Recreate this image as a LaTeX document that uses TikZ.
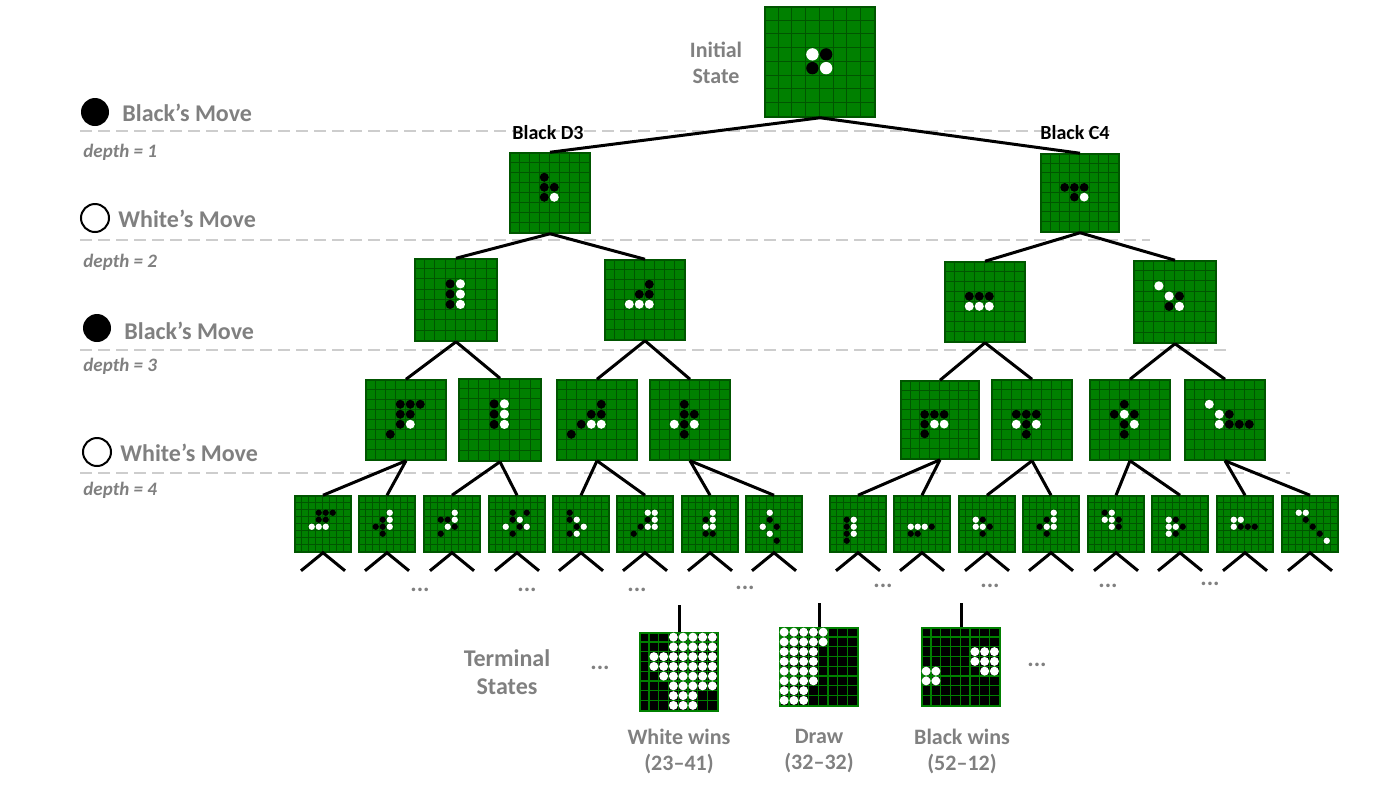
\documentclass[tikz,border=0pt]{standalone}
\usepackage{fontspec}
\setmainfont{Carlito}
\definecolor{boardgreen}{RGB}{0,128,0}
\definecolor{gridgreen}{RGB}{0,85,0}
\definecolor{labelgray}{RGB}{128,128,128}
\definecolor{dashgray}{RGB}{205,205,205}
\tikzset{every picture/.style={line width=0.75pt}}
\tikzset{
  board/.style={draw=gridgreen, fill=boardgreen, inner sep=0pt, minimum size=#1},
  final/.style={draw=boardgreen, fill=black, inner sep=0pt, minimum size=#1},
  edge/.style={line width=1.5pt, black},
  levelline/.style={dashgray, dashed, line width=1pt, dash pattern=on 6pt off 3pt},
  movelabel/.style={labelgray, font=\bfseries\fontsize{12}{14}\selectfont, anchor=west},
  depthlabel/.style={labelgray, font=\bfseries\itshape\fontsize{9.5}{11}\selectfont, anchor=west},
  graylabel/.style={labelgray, font=\bfseries\fontsize{11}{13}\selectfont, align=center},
  movename/.style={black, font=\bfseries\fontsize{10}{12}\selectfont},
  dots/.style={labelgray, font=\bfseries\fontsize{12}{14}\selectfont}
}
% board: name, center, size (px), black stones, white stones
\newcommand\board[5]{%
  \node[board=#3*0.5pt] (#1) at #2 {};
  \pgfmathsetmacro\cs{#3/16}
  \begin{scope}[shift={(#1.north west)}, x=\cs pt, y=-\cs pt]
    \foreach \k in {1,...,7} {
      \draw[gridgreen, line width=0.4pt] (\k,0) -- (\k,8);
      \draw[gridgreen, line width=0.4pt] (0,\k) -- (8,\k);
    }
    \foreach \c/\r in {#4} \fill[black] (\c+0.5,\r+0.5) circle (0.45);
    \foreach \c/\r in {#5} \fill[white] (\c+0.5,\r+0.5) circle (0.45);
  \end{scope}}
% terminal board: name, center, white stones (col/row)
\newcommand\finalboard[3]{%
  \node[final=39pt] (#1) at #2 {};
  \begin{scope}[shift={(#1.north west)}, x=4.875pt, y=-4.875pt]
    \foreach \k in {1,...,7} {
      \draw[boardgreen, line width=0.6pt] (\k,0) -- (\k,8);
      \draw[boardgreen, line width=0.6pt] (0,\k) -- (8,\k);
    }
    \foreach \c/\r in {#3} \fill[white] (\c+0.5,\r+0.5) circle (0.46);
  \end{scope}}

\begin{document}
\begin{tikzpicture}[x=0.5pt,y=-0.5pt]
\useasboundingbox (0,0) rectangle (1400,788);

% level lines and labels
\draw[levelline] (80,131) -- (1110,131);
\draw[levelline] (80,240) -- (1150,240);
\draw[levelline] (80,350) -- (1230,350);
\draw[levelline] (80,473) -- (1290,473);
\node[circle, fill=black, minimum size=14pt] (m1) at (95,112) {};
\node[movelabel] (l1) at (115,113) {Black’s Move};
\node[depthlabel] (d1) at (76,152) {depth = 1};
\node[circle, draw=black, line width=1pt, fill=white, minimum size=14pt] (m2) at (95,218) {};
\node[movelabel] (l2) at (111,219) {White’s Move};
\node[depthlabel] (d2) at (76,262) {depth = 2};
\node[circle, fill=black, minimum size=14pt] (m3) at (97,328) {};
\node[movelabel] (l3) at (117,331) {Black’s Move};
\node[depthlabel] (d3) at (76,366) {depth = 3};
\node[circle, draw=black, line width=1pt, fill=white, minimum size=14pt] (m4) at (97,452) {};
\node[movelabel] (l4) at (113,453) {White’s Move};
\node[depthlabel] (d4) at (76,490) {depth = 4};

% root and depth 1
\board{init}{(820,62)}{110}{4/3,3/4}{3/3,4/4}
\node[graylabel] (initlabel) at (716,63) {Initial\\State};
\board{a1}{(550,193)}{80}{3/2,3/3,4/3,3/4}{4/4}
\board{a2}{(1080,193)}{78}{2/3,3/3,4/3,3/4}{4/4}
\node[movename] (n1) at (548,133) {Black D3};
\node[movename] (n2) at (1075,133) {Black C4};

% depth 2
\board{b1}{(456,300)}{82}{3/2,3/3,3/4}{4/2,4/3,4/4}
\board{b2}{(645,300)}{80}{4/2,3/3,4/3}{2/4,3/4,4/4}
\board{b3}{(985,302)}{80}{2/3,3/3,4/3}{2/4,3/4,4/4}
\board{b4}{(1175,302)}{82}{4/3,3/4}{2/2,3/3,4/4}

% depth 3
\board{c1}{(406,420)}{80}{3/2,4/2,5/2,3/3,4/3,3/4,2/5}{4/4}
\board{c2}{(500,420)}{82}{3/2,3/3,3/4}{4/2,4/3,4/4}
\board{c3}{(597,420)}{80}{4/2,3/3,4/3,2/4,1/5}{3/4,4/4}
\board{c4}{(690,420)}{80}{3/2,3/3,4/3,3/4,3/5}{2/4,4/4}
\board{c5}{(940,420)}{78}{2/3,3/3,4/3,2/4,2/5}{3/4,4/4}
\board{c6}{(1032,420)}{80}{2/3,3/3,4/3,3/4,3/5}{2/4,4/4}
\board{c7}{(1130,420)}{80}{3/2,2/3,4/3,3/4,3/5}{3/3,4/4}
\board{c8}{(1225,420)}{80}{4/3,4/4,5/4,6/4}{2/2,3/3,3/4}

% depth 4
\board{t1}{(323,524)}{56}{3/2,4/2,5/2,3/3,4/3}{2/4,3/4,4/4}
\board{t2}{(387,524)}{56}{3/3,3/4,3/5,2/4}{4/2,4/3,4/4}
\board{t3}{(452,524)}{56}{2/3,3/3,4/4,2/5}{4/2,3/4,4/3}
\board{t4}{(517,524)}{56}{3/2,5/2,3/3,4/4,3/5}{4/3,2/4,5/4}
\board{t5}{(581,524)}{56}{2/2,2/3,3/4,2/5}{3/3,3/5,4/4}
\board{t6}{(645,524)}{56}{4/3,3/4,2/5}{4/2,5/2,5/3,4/4,5/4}
\board{t7}{(710,524)}{56}{3/3,3/5,4/5}{4/2,4/3,3/4,4/4}
\board{t8}{(774,524)}{56}{3/3,4/4,4/6}{3/2,2/4,3/5}
\board{t9}{(858,524)}{56}{2/3,2/4,2/5,2/6}{3/3,3/4,3/5}
\board{t10}{(922,524)}{56}{2/5,3/5,5/4}{2/4,3/4,4/4}
\board{t11}{(987,524)}{56}{3/3,4/4,3/5}{2/3,2/4,3/4}
\board{t12}{(1051,524)}{56}{3/3,2/4,3/5}{4/2,4/3,3/4,4/4}
\board{t13}{(1116,524)}{56}{2/2,4/3,4/4}{3/2,2/3,3/3,3/4}
\board{t14}{(1180,524)}{56}{3/3,4/4,3/5}{3/4,2/4,2/5,2/3}
\board{t15}{(1245,524)}{56}{3/4,4/4,5/4}{2/3,2/4,3/3}
\board{t16}{(1310,524)}{56}{3/3,4/4,5/5}{2/2,3/2,6/6}

% tree edges
\draw[edge] (init.south) -- (a1.north);
\draw[edge] (init.south) -- (a2.north);
\draw[edge] (a1.south) -- (b1.north);
\draw[edge] (a1.south) -- (b2.north);
\draw[edge] (a2.south) -- (b3.north);
\draw[edge] (a2.south) -- (b4.north);
\foreach \p/\l/\r in {b1/c1/c2, b2/c3/c4, b3/c5/c6, b4/c7/c8} {
  \draw[edge] (\p.south) -- (\l.north);
  \draw[edge] (\p.south) -- (\r.north);
}
\foreach \p/\l/\r in {c1/t1/t2, c2/t3/t4, c3/t5/t6, c4/t7/t8, c5/t9/t10, c6/t11/t12, c7/t13/t14, c8/t15/t16} {
  \draw[edge] (\p.south) -- (\l.north);
  \draw[edge] (\p.south) -- (\r.north);
}
\foreach \i in {1,...,16} {
  \draw[edge] (t\i.south) ++(-22,18) -- ++(22,-18) -- ++(22,18);
}

% ellipses
\foreach \x/\y in {420/590, 527/590, 637/590, 745/588, 883/586, 990/586, 1108/586, 1210/584, 600/668, 1037/665}
  \node[dots] at (\x,\y) {...};

% terminal states
\node[graylabel, font=\bfseries\fontsize{12}{14}\selectfont] (term) at (507,672) {Terminal\\States};
\finalboard{w}{(679,672)}{3/0,4/0,5/0,6/0,7/0,3/1,4/1,5/1,6/1,7/1,1/2,2/2,3/2,4/2,5/2,6/2,7/2,1/3,2/3,3/3,4/3,5/3,6/3,7/3,2/4,3/4,4/4,5/4,6/4,7/4,3/5,4/5,5/5,6/5,7/5,3/6,4/6,5/6,3/7,4/7,5/7}
\finalboard{dr}{(819,667)}{0/0,1/0,2/0,3/0,4/0,0/1,1/1,2/1,3/1,4/1,0/2,1/2,2/2,3/2,0/3,1/3,2/3,3/3,0/4,1/4,2/4,3/4,0/5,1/5,2/5,3/5,0/6,1/6,2/6,0/7,1/7,2/7}
\finalboard{bw}{(961,667)}{5/2,6/2,7/2,5/3,6/3,7/3,6/4,7/4,0/4,1/4,0/5,1/5}
\coordinate (wt) at (679,605);
\coordinate (drt) at (819,603);
\coordinate (bwt) at (961,603);
\draw[edge] (wt) -- (w.north);
\draw[edge] (drt) -- (dr.north);
\draw[edge] (bwt) -- (bw.north);
\node[graylabel] (wl) at (679,751) {White wins\\(23–41)};
\node[graylabel] (dl) at (819,751) {Draw\\(32–32)};
\node[graylabel] (bl) at (962,751) {Black wins\\(52–12)};
\end{tikzpicture}
\end{document}
